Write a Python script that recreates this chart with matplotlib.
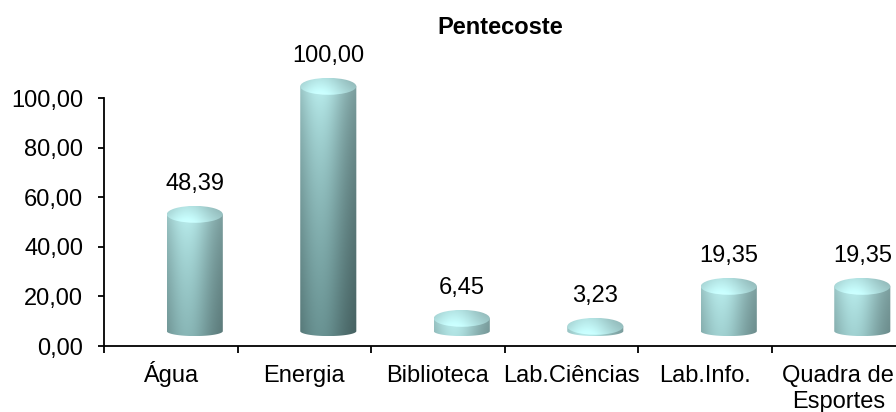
import matplotlib
matplotlib.use("Agg")
import matplotlib.pyplot as plt
import numpy as np
from matplotlib.patches import PathPatch, Ellipse
from matplotlib.path import Path
from matplotlib.transforms import blended_transform_factory, offset_copy

plt.rcParams['font.family'] = ['Liberation Sans', 'DejaVu Sans']

categories = ["Água", "Energia", "Biblioteca", "Lab.Ciências", "Lab.Info.", "Quadra de\nEsportes"]
values = [48.39, 100.00, 6.45, 3.23, 19.35, 19.35]
yticks = [0, 20, 40, 60, 80, 100]
title = "Pentecoste"

light = np.array([0.78, 0.99, 0.99])
dark = np.array([0.40, 0.56, 0.56])

shift = 0.18       # 3D depth shift of cylinders (category units)
half_w = 0.21
floor = 4.0        # lowest edge of cylinders (data units)
ry_b = 2.0
ry_t = 3.4
cap_gap = 8.1      # cap top above value


def fmt(v):
    return f"{v:.2f}".replace(".", ",")


def shade(u):
    # horizontal lighting across the cylinder (u from 0 to 1)
    return 0.62 + 0.38 * np.exp(-((u - 0.35) / 0.45) ** 2)


fig = plt.figure(figsize=(8.96, 4.12), dpi=100)
ax = fig.add_axes((104 / 896, 66 / 412, 801 / 896, 115 * 2.48 / 412))

for i, v in enumerate(values):
    xc = i + shift
    x0, x1 = xc - half_w, xc + half_w
    yb = floor + ry_b
    top_edge = v + cap_gap
    yt = top_edge - ry_t

    # body
    ny, nx = 300, 80
    ys = np.linspace(floor, yt, ny)
    us = np.linspace(0, 1, nx)
    t = np.clip((top_edge - ys) / 110, 0, 1) ** 0.6
    base = light[None, :] * (1 - t[:, None]) + dark[None, :] * t[:, None]
    rgb = base[:, None, :] * shade(us)[None, :, None]
    im = ax.imshow(np.clip(rgb, 0, 1), extent=(x0, x1, floor, yt), origin="lower",
                   aspect="auto", interpolation="bilinear", zorder=2)
    theta = np.linspace(0, -np.pi, 60)
    verts = [(x0, yt), (x1, yt)] + [(xc + half_w * np.cos(a), yb + ry_b * np.sin(a)) for a in theta]
    verts.append((x0, yt))
    body = PathPatch(Path(verts, closed=True), transform=ax.transData, facecolor="none", edgecolor="none")
    im.set_clip_path(body)

    # cap
    ys2 = np.linspace(yt - ry_t, yt + ry_t, 60)
    tv = (ys2 - (yt - ry_t)) / (2 * ry_t)
    cap_v = 1.04 - 0.14 * tv
    cap = light[None, None, :] * cap_v[:, None, None] * (0.35 + 0.65 * shade(us))[None, :, None]
    im2 = ax.imshow(np.clip(cap, 0, 1), extent=(x0, x1, yt - ry_t, yt + ry_t), origin="lower",
                    aspect="auto", interpolation="bilinear", zorder=3)
    ell = Ellipse((xc, yt), 2 * half_w, 2 * ry_t, transform=ax.transData, facecolor="none", edgecolor="none")
    im2.set_clip_path(ell)

    ax.annotate(fmt(v), (xc, top_edge), xytext=(0, 16), textcoords="offset points",
                ha="center", va="center", fontsize=17, color="black")

ax.set_xlim(-0.5, 5.5)
ax.set_ylim(0, 115)

ax.set_xticks(np.arange(-0.5, 6.0, 1.0))
ax.set_xticklabels([])
ax.tick_params(axis="x", which="major", direction="out", length=5, width=1.3)

# category labels, each line on its own baseline
base_tr = blended_transform_factory(ax.transData, ax.transAxes)
for i, name in enumerate(categories):
    for k, line in enumerate(name.split("\n")):
        tr = offset_copy(base_tr, fig=fig, y=-(36 + 26 * k) * 0.72, units="points")
        ax.text(i, 0, line, transform=tr, ha="center", va="baseline", fontsize=17, clip_on=False)

ax.set_yticks(yticks)
ax.set_yticklabels([fmt(v) for v in yticks], fontsize=17)
ax.tick_params(axis="y", direction="out", length=4, width=1.3, pad=11)

for side in ("top", "right"):
    ax.spines[side].set_visible(False)
ax.spines["left"].set_bounds(0, 100)
ax.spines["left"].set_linewidth(1.3)
ax.spines["bottom"].set_linewidth(1.3)
ax.patch.set_alpha(0)

fig.text(500 / 896, 1 - 27 / 412, title, ha="center", va="center", fontsize=17, fontweight="bold")

fig.savefig("out.png", dpi=100)
